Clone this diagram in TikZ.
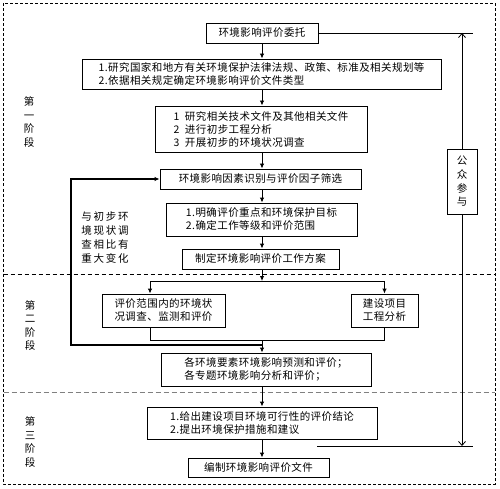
\documentclass[tikz,border=0pt]{standalone}
\usepackage{fontspec}
\setmainfont{Noto Sans CJK SC}[LetterSpace=4]
\newfontfamily\widecjk{Noto Sans CJK SC}[LetterSpace=16]
\usetikzlibrary{arrows.meta}
\begin{document}
\begin{tikzpicture}[x=1pt,y=-1pt,
 box/.style={draw, line width=0.9pt, inner sep=0pt, align=left, font=\fontsize{10.5}{13}\selectfont},
 lbl/.style={align=center, inner sep=0pt, font=\fontsize{10.5}{13.4}\selectfont},
 arr/.style={-{Latex[length=5pt,width=4.5pt]}, line width=0.9pt},
 ln/.style={line width=0.9pt},
 pub/.style={-{Straight Barb[length=4pt,width=7pt]}, line width=0.8pt}
]
\useasboundingbox (0,0) rectangle (500,489);
% frame and stage separators
\draw[dash pattern=on 3pt off 2pt, line width=0.7pt] (3.5,3.5) rectangle (495,484);
\draw[dash pattern=on 4pt off 3pt, line width=0.7pt] (3.5,274) -- (495,274);
\draw[gray, dash pattern=on 5pt off 3pt, line width=0.8pt] (3.5,392) -- (495,392);

% boxes
\node[box, minimum width=112, minimum height=20] (b1) at (262,33) {环境影响评价委托};
\node[box, minimum width=359, minimum height=30] (b2) at (261.5,74) {1.研究国家和地方有关环境保护法律法规、政策、标准及相关规划等\\2.依据相关规定确定环境影响评价文件类型};
\node[box, minimum width=212, minimum height=46] (b3) at (261,129) {1\ \ 研究相关技术文件及其他相关文件\\2\ \ 进行初步工程分析\\3\ \ 开展初步的环境状况调查};
\node[box, minimum width=201, minimum height=20] (b4) at (260.5,179) {环境影响因素识别与评价因子筛选};
\node[box, minimum width=191, minimum height=33] (b5) at (261.5,219.5) {1.明确评价重点和环境保护目标\\2.确定工作等级和评价范围};
\node[box, minimum width=157, minimum height=20] (b6) at (260.5,259) {制定环境影响评价工作方案};
\node[box, minimum width=123, minimum height=33] (b7) at (163.5,310.5) {评价范围内的环境状\\况调查、监测和评价};
\node[box, minimum width=67, minimum height=33] (b8) at (384.5,310.5) {建设项目\\工程分析};
\node[box, minimum width=210, minimum height=33] (b9) at (266,369.5) {各环境要素环境影响预测和评价；\\各专题环境影响分析和评价；};
\node[box, minimum width=230, minimum height=32] (b10) at (262,423) {1.给出建设项目环境可行性的评价结论\\2.提出环境保护措施和建议};
\node[box, minimum width=141, minimum height=19] (b11) at (258.5,467.5) {编制环境影响评价文件};
\node[box, align=center, minimum width=30, minimum height=65, font=\fontsize{10.5}{13.7}\selectfont] (pub) at (462,181.5) {公\\众\\参\\与};

% labels
\node[lbl] (s1) at (29,122) {第\\一\\阶\\段};
\node[lbl] (s2) at (30,325.5) {第\\二\\阶\\段};
\node[lbl] (s3) at (30,442) {第\\三\\阶\\段};
\node[lbl, align=left, font=\widecjk\fontsize{10.5}{13.7}\selectfont] (fbt) at (105,237.5) {与初步环\\境现状调\\查相比有\\重大变化};

% main spine
\coordinate (sx) at (262,0);
\draw[arr] (sx |- b1.south) -- (sx |- b2.north);
\draw[arr] (sx |- b2.south) -- (sx |- b3.north);
\draw[arr] (sx |- b3.south) -- (sx |- b4.north);
\draw[arr] (sx |- b4.south) -- (sx |- b5.north);
\draw[arr] (sx |- b5.south) -- (sx |- b6.north);

\coordinate (split) at (262,281);
\coordinate (l7) at (150,0);
\coordinate (r8) at (384.5,0);
\draw[arr] (sx |- b6.south) -- (split);
\draw[ln] (l7 |- split) -- (r8 |- split);
\draw[arr] (l7 |- split) -- (l7 |- b7.north);
\draw[arr] (r8 |- split) -- (b8.north);

\coordinate (merge) at (262,340);
\draw[ln] (l7 |- b7.south) -- (l7 |- merge) -- (r8 |- merge) -- (b8.south);
\draw[arr] (merge) -- (sx |- b9.north);
\draw[arr] (sx |- b9.south) -- (sx |- b10.north);
\draw[arr] (sx |- b10.south) -- (sx |- b11.north);

% feedback loop
\coordinate (fb) at (262,345);
\coordinate (fbx) at (71,345);
\draw[arr, line width=1.3pt] (fb) -- (fbx) -- (fbx |- b4.west) -- (b4.west);

% public participation
\coordinate (pt) at (473,33);
\coordinate (pb) at (473,446);
\coordinate (pl) at (317,446);
\draw[line width=0.8pt] (b1.east) -- (pt);
\draw[line width=0.8pt] (pl) -- (pb);
\draw[pub] (pub.north) -- (pub.north |- pt);
\draw[pub] (pub.south) -- (pub.south |- pb);
\end{tikzpicture}
\end{document}
